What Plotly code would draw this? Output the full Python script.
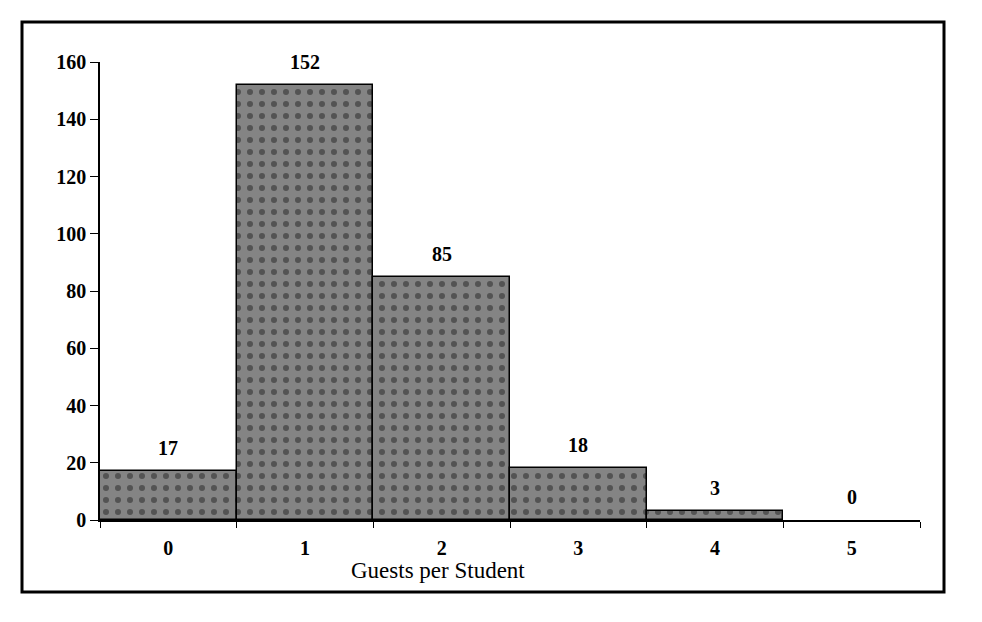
import plotly.graph_objects as go

categories = ["0", "1", "2", "3", "4", "5"]
counts = [17, 152, 85, 18, 3, 0]
y_ticks = [0, 20, 40, 60, 80, 100, 120, 140, 160]

edge_w = [1.5 if v > 0 else 0 for v in counts]

# page body has an 8px offset; compensate in margins
OFF = 8
L, T = 100 - OFF, 62 - OFF
W_PLOT, H_PLOT = 820, 458

fig = go.Figure()
fig.add_trace(go.Bar(
    x=categories, y=counts,
    marker=dict(
        color="#7c7c7c",
        line=dict(color="black", width=edge_w),
        pattern=dict(shape=".", fgcolor="#2a2a2a", bgcolor="#848484", fgopacity=0.55,
                     size=12, solidity=0.2, fillmode="replace"),
    ),
    showlegend=False,
    hoverinfo="x+y",
))

for c, v in zip(categories, counts):
    fig.add_annotation(x=c, y=v, xref="x", yref="y", text=f"<b>{v}</b>",
                       showarrow=False, yanchor="bottom", yshift=10,
                       font=dict(family="Liberation Serif", size=20, color="black"))

fig.add_annotation(x=(438 - 100) / W_PLOT, y=(520 - 570) / H_PLOT, xref="paper", yref="paper",
                   text="Guests per Student", showarrow=False,
                   xanchor="center", yanchor="middle",
                   font=dict(family="Liberation Serif", size=23, color="black"))

# outer border
fig.add_shape(type="rect", xref="paper", yref="paper",
              x0=(22 - 100) / W_PLOT, x1=(944 - 100) / W_PLOT,
              y0=(520 - 592) / H_PLOT, y1=(520 - 22) / H_PLOT,
              line=dict(color="black", width=3), fillcolor="rgba(0,0,0,0)")

fig.update_layout(
    width=982, height=622,
    margin=dict(l=L, r=982 - L - W_PLOT, t=T, b=622 - T - H_PLOT),
    paper_bgcolor="white", plot_bgcolor="white",
    bargap=0,
    font=dict(family="Liberation Serif", color="black"),
    xaxis=dict(
        type="category", range=[-0.5, 5.5],
        showline=True, linecolor="black", linewidth=1.5,
        ticks="outside", tickson="boundaries", ticklen=6, tickcolor="black", tickwidth=1.2,
        showgrid=False, zeroline=False,
        tickfont=dict(family="Liberation Serif", size=20, color="black", weight="bold"),
        ticklabelstandoff=9,
    ),
    yaxis=dict(
        range=[0, 160], tickvals=y_ticks,
        showline=True, linecolor="black", linewidth=1.5,
        ticks="outside", ticklen=8, tickcolor="black", tickwidth=1.2,
        showgrid=False, zeroline=False,
        tickfont=dict(family="Liberation Serif", size=20, color="black", weight="bold"),
    ),
)

fig.write_html("out.html")
